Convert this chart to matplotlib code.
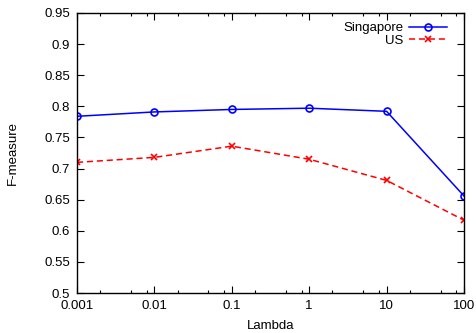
import matplotlib
matplotlib.use("Agg")
import matplotlib.pyplot as plt
from matplotlib.ticker import LogLocator, NullFormatter, FixedLocator

plt.rcParams['font.family'] = ['Liberation Sans', 'DejaVu Sans']

lambdas = [0.001, 0.01, 0.1, 1, 10, 100]
lambda_labels = ['0.001', '0.01', '0.1', '1', '10', '100']
singapore = [0.784, 0.791, 0.795, 0.797, 0.792, 0.656]
us = [0.710, 0.718, 0.736, 0.715, 0.681, 0.617]
yticks = [0.5, 0.55, 0.6, 0.65, 0.7, 0.75, 0.8, 0.85, 0.9, 0.95]
ytick_labels = ['0.5', '0.55', '0.6', '0.65', '0.7', '0.75', '0.8', '0.85', '0.9', '0.95']

fs = 9.5

fig = plt.figure(figsize=(4.77, 3.33), dpi=100)
ax = fig.add_axes([0.1614, 0.12, 0.8113, 0.841])

ax.plot(lambdas, singapore, color='#0000ff', lw=1.1, marker='o', ms=5,
        mfc='none', mew=1.2, label='Singapore')
ax.plot(lambdas, us, color='#ff0000', lw=1.1, ls=(0, (4, 2.5)), marker='x', ms=5,
        mew=1.2, label='US')

ax.set_xscale('log')
ax.set_xlim(0.001, 100)
ax.set_ylim(0.5, 0.95)
ax.xaxis.set_major_locator(FixedLocator(lambdas))
ax.set_xticklabels(lambda_labels)
ax.xaxis.set_minor_locator(LogLocator(base=10, subs=[2, 5, 8]))
ax.xaxis.set_minor_formatter(NullFormatter())
ax.set_yticks(yticks)
ax.set_yticklabels(ytick_labels)

ax.tick_params(which='both', direction='in', top=True, right=True, labelsize=fs, colors='black')
ax.tick_params(which='major', length=4.8, width=0.8, pad=5)
ax.tick_params(which='minor', length=2.4, width=0.8)
for s in ax.spines.values():
    s.set_linewidth(1.0)

ax.set_xlabel('Lambda', fontsize=fs, labelpad=6)
ax.set_ylabel('F-measure', fontsize=fs, labelpad=18)

ax.legend(loc='upper right', frameon=False, markerfirst=False, fontsize=fs,
          handlelength=2.9, handletextpad=0.4, labelspacing=0.0,
          borderaxespad=0.3, bbox_to_anchor=(0.98, 1.0))

fig.savefig('out.png', dpi=100)
